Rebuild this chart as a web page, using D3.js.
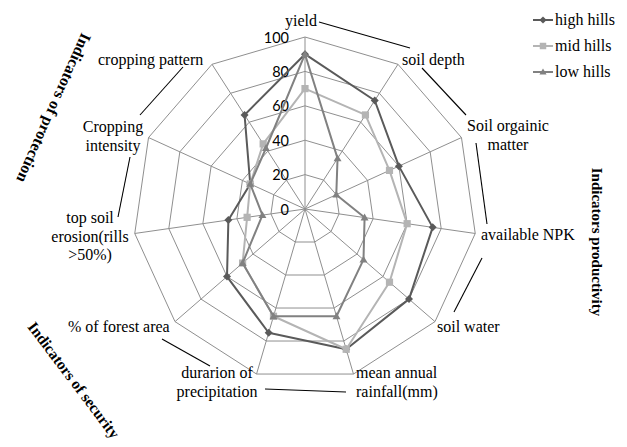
<!DOCTYPE html>
<html>
<head>
<meta charset="utf-8">
<script src="https://cdn.jsdelivr.net/npm/d3@7"></script>
<style>
  html, body { margin: 0; padding: 0; background: #fff; }
  svg { display: block; }
</style>
</head>
<body>
<svg id="chart" width="627" height="447"></svg>
<script>
// ---- data ----
const categories = ["yield", "soil depth", "Soil orgainic matter", "available NPK", "soil water",
  "mean annual rainfall(mm)", "durarion of precipitation", "% of forest area",
  "top soil erosion(rills >50%)", "Cropping intensity", "cropping pattern"];
const seriesNames = ["high hills", "mid hills", "low hills"];
const highHills = [90, 75, 60, 75, 80, 85, 75, 60, 45, 35, 65];
const midHills  = [70, 65, 54, 60, 65, 85, 65, 48, 34, 35, 45];
const lowHills  = [90, 35, 20, 35, 45, 65, 65, 48, 25, 35, 42];
const tickValues = [0, 20, 40, 60, 80, 100];
const groupTitles = ["Indicators of protection", "Indicators productivity", "Indicators of security"];

// ---- layout ----
const svg = d3.select("#chart");
const cx = 305, cy = 209, R = 172;
const r = d3.scaleLinear().domain([0, 100]).range([0, R]);
const angle = d3.scaleLinear().domain([0, categories.length]).range([0, 2 * Math.PI]);
const pt = (i, v) => [cx + r(v) * Math.sin(angle(i)), cy - r(v) * Math.cos(angle(i))];

const gridColor = "#8f8f8f";
const g = svg.append("g");

// grid polygons
tickValues.filter(t => t > 0).forEach(t => {
  g.append("path")
    .attr("d", d3.line()(categories.map((c, i) => pt(i, t))) + "Z")
    .attr("fill", "none").attr("stroke", gridColor).attr("stroke-width", 1);
});
// spokes
categories.forEach((c, i) => {
  const p = pt(i, 100);
  g.append("line").attr("x1", cx).attr("y1", cy).attr("x2", p[0]).attr("y2", p[1])
    .attr("stroke", gridColor).attr("stroke-width", 1);
});
// tick labels
tickValues.forEach(t => {
  g.append("text").attr("x", cx - 16).attr("y", cy - r(t))
    .attr("text-anchor", "end").attr("dominant-baseline", "central")
    .attr("font-family", "Lato, 'Liberation Sans', sans-serif").attr("font-size", 14.5)
    .attr("fill", "#000").text(t);
});

// series
const markers = {
  diamond: s => `M0,${-s}L${s},0L0,${s}L${-s},0Z`,
  square: s => `M${-s},${-s}H${s}V${s}H${-s}Z`,
  triangle: s => `M0,${-s * 1.1}L${s * 1.1},${s * 0.8}L${-s * 1.1},${s * 0.8}Z`
};
const series = [
  { name: seriesNames[0], values: highHills, color: "#5a5a5a", marker: "diamond", ms: 4 },
  { name: seriesNames[1], values: midHills, color: "#b4b4b4", marker: "square", ms: 3.6 },
  { name: seriesNames[2], values: lowHills, color: "#818181", marker: "triangle", ms: 3.6 }
];
series.forEach(s => {
  const pts = s.values.map((v, i) => pt(i, v));
  g.append("path").attr("d", d3.line()(pts) + "Z")
    .attr("fill", "none").attr("stroke", s.color).attr("stroke-width", 2)
    .attr("stroke-linejoin", "round");
  pts.forEach(p => {
    g.append("path").attr("d", markers[s.marker](s.ms))
      .attr("transform", `translate(${p[0]},${p[1]})`).attr("fill", s.color);
  });
});

// category labels
const serif = "'Liberation Serif', 'Times New Roman', serif";
const labelLayout = [
  { lines: ["yield"], x: 301, y: 26, anchor: "middle" },
  { lines: ["soil depth"], x: 402, y: 65, anchor: "start" },
  { lines: ["Soil orgainic", "matter"], x: 508, y: 131, anchor: "middle" },
  { lines: ["available NPK"], x: 481, y: 240, anchor: "start" },
  { lines: ["soil water"], x: 437, y: 332, anchor: "start" },
  { lines: ["mean annual", "rainfall(mm)"], x: 356, y: 378, anchor: "start" },
  { lines: ["durarion of", "precipitation"], x: 217, y: 378, anchor: "middle" },
  { lines: ["% of forest area"], x: 68, y: 332, anchor: "start" },
  { lines: ["top soil", "erosion(rills", ">50%)"], x: 90, y: 223, anchor: "middle" },
  { lines: ["Cropping", "intensity"], x: 113, y: 132, anchor: "middle" },
  { lines: ["cropping pattern"], x: 98, y: 65, anchor: "start" }
];
categories.forEach((c, i) => {
  const L = labelLayout[i];
  const t = svg.append("text").attr("x", L.x).attr("y", L.y)
    .attr("text-anchor", L.anchor).attr("font-family", serif).attr("font-size", 16).attr("fill", "#000");
  L.lines.forEach((ln, k) => {
    t.append("tspan").attr("x", L.x).attr("dy", k === 0 ? 0 : 18.5).text(ln);
  });
});

// bracket / leader lines
const leaders = [
  [319, 22, 410, 48], [422, 68, 466, 115], [476, 143, 487, 224], [482, 258, 454, 312],
  [265, 389, 346, 392], [162, 339, 210, 366], [130, 157, 118, 217], [183, 67, 140, 115]
];
leaders.forEach(l => {
  svg.append("line").attr("x1", l[0]).attr("y1", l[1]).attr("x2", l[2]).attr("y2", l[3])
    .attr("stroke", "#000").attr("stroke-width", 1.1);
});

// group titles (rotated)
const titleLayout = [
  { x: 54, y: 108, rot: 114, size: 16 },
  { x: 597, y: 242, rot: 90, size: 15 },
  { x: 74, y: 380, rot: 53, size: 15.5 }
];
groupTitles.forEach((tt, i) => {
  const L = titleLayout[i];
  svg.append("text").attr("transform", `translate(${L.x},${L.y}) rotate(${L.rot})`)
    .attr("text-anchor", "middle").attr("dominant-baseline", "central")
    .attr("font-family", serif).attr("font-weight", "bold").attr("font-size", L.size)
    .attr("fill", "#000").text(tt);
});

// legend
const legend = svg.append("g");
series.forEach((s, i) => {
  const y = 20 + i * 26;
  legend.append("line").attr("x1", 533).attr("x2", 553).attr("y1", y).attr("y2", y)
    .attr("stroke", s.color).attr("stroke-width", 2);
  legend.append("path").attr("d", markers[s.marker](s.ms * 0.9))
    .attr("transform", `translate(543,${y})`).attr("fill", s.color);
  legend.append("text").attr("x", 555).attr("y", y + 5)
    .attr("font-family", serif).attr("font-size", 16).attr("fill", "#000").text(s.name);
});
</script>
</body>
</html>
